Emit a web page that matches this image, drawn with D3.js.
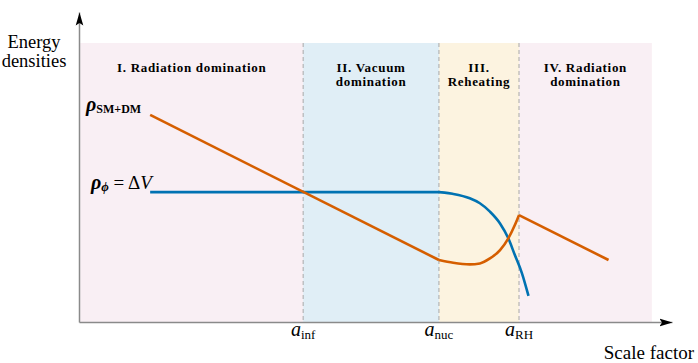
<!DOCTYPE html>
<html>
<head>
<meta charset="utf-8">
<script src="https://cdn.jsdelivr.net/npm/d3@7"></script>
<style>
  body { margin: 0; background: #fff; }
  text { font-family: "Liberation Serif", "Times New Roman", serif; fill: #000; }
</style>
</head>
<body>
<div id="chart"></div>
<script>
const width = 698;
const height = 363;

// x ~ ln(a), y ~ ln(rho), both in arbitrary units (0..100)
const eraEdges = [0.2, 37.8, 60.7, 74.2, 96.6];
const eraColors = ["#CC79A7", "#0072B2", "#E69F00", "#CC79A7"];
const eraLabels = [["I. Radiation domination"], ["II. Vacuum", "domination"], ["III.", "Reheating"], ["IV. Radiation", "domination"]];
const eraTop = 90;

const tickEdges = [37.8, 60.7, 74.2];
const tickSubs = ["inf", "nuc", "RH"];

// radiation (SM+DM) energy density
const orangeEarly = [[12.0, 66.8], [60.7, 20.0]];
const orangeReheat = [[60.7, 20.0], [63.1, 19.1], [65.9, 18.6], [67.6, 18.9], [69.3, 20.5], [71.0, 23.2], [72.4, 27.0], [73.5, 31.3], [74.2, 34.5]];
const orangeLate = [[74.2, 34.5], [89.3, 20.0]];

// vacuum energy density
const blueCurve = [[12.0, 41.9], [60.7, 41.9], [63.1, 41.3], [65.9, 39.9], [67.6, 38.3], [69.3, 35.6], [71.0, 31.8], [72.4, 27.0], [73.5, 21.6], [74.7, 15.7], [75.8, 8.4]];

const yTitle = ["Energy", "densities"];

const x = d3.scaleLinear().domain([0, 100]).range([79, 672]);
const y = d3.scaleLinear().domain([0, 100]).range([322, 12]);

const svg = d3.select("#chart").append("svg")
    .attr("width", width)
    .attr("height", height);

const defs = svg.append("defs");
defs.append("marker")
    .attr("id", "arrow")
    .attr("markerUnits", "userSpaceOnUse")
    .attr("markerWidth", 14)
    .attr("markerHeight", 10)
    .attr("refX", 13)
    .attr("refY", 5)
    .attr("orient", "auto")
  .append("path")
    .attr("d", "M0,1.2 L13,5 L0,8.8 L2.5,5 Z")
    .attr("fill", "#000");

// era bands
svg.append("g").selectAll("rect")
  .data(eraColors)
  .join("rect")
    .attr("x", (d, i) => x(eraEdges[i]))
    .attr("y", y(eraTop))
    .attr("width", (d, i) => x(eraEdges[i + 1]) - x(eraEdges[i]))
    .attr("height", y(0) - y(eraTop))
    .attr("fill", d => d)
    .attr("fill-opacity", 0.12);

// dashed boundaries
svg.append("g").selectAll("line")
  .data(tickEdges)
  .join("line")
    .attr("x1", d => x(d))
    .attr("x2", d => x(d))
    .attr("y1", y(eraTop))
    .attr("y2", y(0))
    .attr("stroke", "#a8a8a8")
    .attr("stroke-width", 1)
    .attr("stroke-dasharray", "4,3");

// era labels, one text per line
eraLabels.forEach((lines, i) => {
  const cx = (x(eraEdges[i]) + x(eraEdges[i + 1])) / 2;
  lines.forEach((l, j) => {
    svg.append("text")
        .attr("x", cx)
        .attr("y", 72 + j * 14)
        .attr("text-anchor", "middle")
        .attr("font-weight", "bold")
        .attr("font-size", 13)
        .attr("letter-spacing", 0.7)
        .text(l);
  });
});

// curves
const line = d3.line().x(d => x(d[0])).y(d => y(d[1]));
const smooth = d3.line().x(d => x(d[0])).y(d => y(d[1])).curve(d3.curveMonotoneX);

svg.append("path").datum(blueCurve)
    .attr("d", smooth)
    .attr("fill", "none")
    .attr("stroke", "#0072B2")
    .attr("stroke-width", 2.6);

[orangeEarly, orangeLate].forEach(seg => {
  svg.append("path").datum(seg)
      .attr("d", line)
      .attr("fill", "none")
      .attr("stroke", "#D55E00")
      .attr("stroke-width", 2.6);
});
svg.append("path").datum(orangeReheat)
    .attr("d", smooth)
    .attr("fill", "none")
    .attr("stroke", "#D55E00")
    .attr("stroke-width", 2.6)
    .attr("stroke-linejoin", "round");

// axes
const xAxis = svg.append("g")
    .attr("transform", `translate(0,${y(0)})`)
    .call(d3.axisBottom(x).tickValues([]).tickSizeOuter(0));
const yAxis = svg.append("g")
    .attr("transform", `translate(${x(0)},0)`)
    .call(d3.axisLeft(y).tickValues([]).tickSizeOuter(0));
[xAxis, yAxis].forEach(g => {
  g.select(".domain")
    .attr("stroke", "#8a8a8a")
    .attr("stroke-width", 1.5)
    .attr("marker-end", "url(#arrow)");
});

// tick labels a_inf, a_nuc, a_RH
tickEdges.forEach((e, i) => {
  const t = svg.append("text")
      .attr("x", x(e))
      .attr("y", 336)
      .attr("text-anchor", "middle");
  t.append("tspan").attr("font-style", "italic").attr("font-size", 20).text("a");
  t.append("tspan").attr("font-size", 13).attr("dy", 3).text(tickSubs[i]);
});

// axis titles
svg.append("text")
    .attr("x", 694)
    .attr("y", 359)
    .attr("text-anchor", "end")
    .attr("font-size", 19)
    .text("Scale factor");

yTitle.forEach((l, j) => {
  svg.append("text")
      .attr("x", 34)
      .attr("y", 48 + j * 18.5)
      .attr("text-anchor", "middle")
      .attr("font-size", 18.5)
      .text(l);
});

// curve labels
const l1 = svg.append("text").attr("x", 86).attr("y", 111);
l1.append("tspan").attr("font-weight", "bold").attr("font-style", "italic").attr("font-size", 20).text("ρ");
l1.append("tspan").attr("font-weight", "bold").attr("font-size", 12).attr("dy", 2).text("SM+DM");

const l2 = svg.append("text").attr("x", 91).attr("y", 189);
l2.append("tspan").attr("font-weight", "bold").attr("font-style", "italic").attr("font-size", 20).text("ρ");
l2.append("tspan").attr("font-weight", "bold").attr("font-style", "italic").attr("font-size", 13).attr("dy", 2).text("ϕ");
l2.append("tspan").attr("font-size", 19).attr("dy", -2).text(" = Δ");
l2.append("tspan").attr("font-style", "italic").attr("font-size", 19).text("V");
</script>
</body>
</html>
